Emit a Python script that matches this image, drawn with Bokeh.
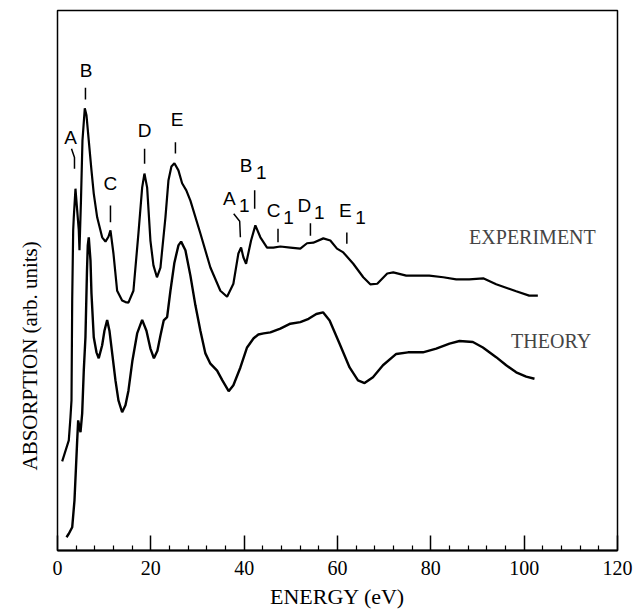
from bokeh.plotting import figure
from bokeh.models import Range1d, FixedTicker, Label, Title
from bokeh.embed import file_html
from bokeh.resources import INLINE
from bokeh.core.properties import value

# ---------------- data (energy in eV, absorption in arbitrary units) ----------------
exp_energy = [1.0, 2.42, 2.78, 3.0, 3.15, 3.36, 3.49, 3.85, 4.22, 4.56, 4.71, 5.03, 5.35, 5.85,
              6.21, 6.70, 7.28, 7.77, 8.50, 9.57, 10.28, 10.92, 11.35, 11.99, 12.78, 13.85,
              14.56, 15.2, 16.27, 17.34, 18.14, 18.63, 19.21, 19.91, 20.56, 21.31, 22.06,
              23.13, 23.77, 24.41, 25.05, 25.91, 26.70, 27.6, 28.48, 30.62, 32.76, 34.90,
              36.34, 37.69, 38.76, 39.34, 39.83, 40.41, 41.48, 42.40, 43.47, 44.90, 46.25,
              47.75, 49.89, 52.03, 53.47, 54.82, 56.96, 58.46, 59.89, 61.24, 63.38, 65.52,
              67.02, 68.52, 70.66, 71.95, 74.73, 79.66, 82.66, 85.44, 88.22, 91.22, 94.0,
              98.29, 101.07, 102.93]
exp_absorption = [16.5, 20.4, 24.7, 27.8, 46.3, 59.3, 61.7, 67.0, 63.0, 59.3, 55.6, 64.8, 75.9, 81.9,
                  80.6, 75.9, 70.4, 66.1, 61.7, 58.0, 57.2, 58.1, 59.3, 55.0, 48.1, 46.3,
                  46.0, 45.9, 48.1, 58.7, 67.2, 69.8, 67.2, 57.4, 52.8, 50.6, 52.4,
                  61.7, 68.5, 71.1, 71.7, 70.4, 68.0, 66.7, 64.8, 58.7, 52.4, 48.1,
                  47.0, 49.4, 55.0, 56.1, 54.3, 53.1, 57.4, 60.2, 58.0, 56.1, 56.1,
                  56.3, 56.1, 55.9, 56.9, 57.0, 57.8, 57.4, 55.9, 55.2, 53.1, 50.6,
                  49.3, 49.4, 51.3, 51.5, 50.9, 50.9, 50.6, 50.2, 50.2, 50.4, 49.3,
                  48.0, 47.2, 47.2]

theory_energy = [1.93, 2.42, 3.15, 3.64, 3.96, 4.22, 4.43, 4.93, 5.29, 5.63, 5.99, 6.32, 6.49,
                 6.70, 7.07, 7.28, 7.77, 8.35, 8.84, 9.57, 10.06, 10.64, 11.13, 11.78, 12.42,
                 13.06, 13.85, 14.56, 15.2, 16.06, 17.07, 18.14, 19.06, 19.91, 20.66, 21.41,
                 22.06, 22.76, 23.49, 24.2, 25.05, 25.91, 26.49, 27.41, 28.48, 29.55, 30.62,
                 31.69, 32.76, 34.2, 35.33, 36.68, 37.69, 39.19, 40.62, 42.03, 43.04, 44.18,
                 45.61, 47.75, 49.89, 52.03, 53.81, 55.46, 56.9, 58.31, 60.45, 62.59, 64.39,
                 65.80, 67.60, 69.74, 72.59, 75.1, 78.31, 81.16, 84.0, 86.15, 89.01, 91.16,
                 94.0, 96.15, 98.29, 100.43, 102.21]
theory_absorption = [2.46, 3.1, 4.3, 9.3, 15.4, 20.4, 24.1, 21.9, 25.4, 33.3, 39.5, 51.9, 56.5,
                     58.0, 53.7, 47.6, 39.5, 36.7, 35.6, 38.0, 40.7, 42.7, 40.7, 36.1, 31.5,
                     27.8, 25.6, 26.9, 29.6, 35.2, 40.2, 42.7, 40.7, 37.4, 35.6, 37.0,
                     39.8, 42.6, 43.2, 48.1, 53.3, 56.5, 57.2, 55.6, 50.9, 45.4, 40.7,
                     36.5, 34.6, 33.3, 31.5, 29.5, 30.6, 33.9, 37.6, 39.3, 40.0, 40.2,
                     40.4, 41.1, 42.0, 42.3, 42.9, 43.8, 44.1, 42.6, 38.3, 33.9, 31.5,
                     31.0, 32.1, 34.3, 36.4, 36.7, 36.7, 37.4, 38.3, 38.8, 38.6, 37.6,
                     35.8, 34.3, 33.0, 32.2, 31.8]

x_ticks = [0, 20, 40, 60, 80, 100, 120]
x_minor_ticks = [4, 8, 12, 16, 24, 28, 32, 36, 44, 48, 52, 56, 64, 68, 72, 76,
                 84, 88, 92, 96, 104, 108, 112, 116]

peak_letters = ["A", "B", "C", "D", "E", "A", "B", "C", "D", "E"]
peak_subscripts = ["", "", "", "", "", "1", "1", "1", "1", "1"]

# annotation placement (data coordinates)
letter_x = [2.78, 6.15, 11.35, 18.66, 25.62, 36.8, 40.43, 46.3, 52.9, 61.7]
letter_y = [76.5, 88.9, 67.9, 77.8, 79.9, 65.1, 71.3, 63.0, 63.9, 63.0]
marker_xs = [[3.0, 3.64, 3.64], [5.99, 5.99], [11.35, 11.35], [18.66, 18.66], [25.27, 25.27],
             [37.76, 39.04, 39.19], [42.25, 42.25], [47.25, 47.25], [54.2, 54.2], [62.0, 62.0]]
marker_ys = [[74.4, 72.8, 70.7], [85.7, 83.5], [63.9, 60.8], [74.4, 71.6], [75.6, 73.5],
             [62.35, 60.98, 58.0], [66.7, 63.3], [59.6, 57.1], [60.6, 58.3], [58.9, 56.8]]

# ---------------- figure ----------------
p = figure(width=636, height=615, output_backend="svg", toolbar_location=None,
           x_range=Range1d(0, 120), y_range=Range1d(0, 100), y_axis_location=None,
           min_border_left=57, min_border_right=19, min_border_top=10, min_border_bottom=65)
p.grid.visible = False
p.outline_line_color = "black"
p.outline_line_width = 1.5
p.background_fill_color = "white"
p.border_fill_color = "white"

ax = p.xaxis[0]
ax.ticker = FixedTicker(ticks=x_ticks, minor_ticks=x_minor_ticks)
ax.axis_line_width = 2
ax.axis_line_color = "black"
ax.major_tick_in = 15
ax.major_tick_out = 0
ax.minor_tick_in = 5
ax.minor_tick_out = 0
ax.major_tick_line_width = 1.5
ax.minor_tick_line_width = 1.2
ax.major_label_text_font = "Liberation Serif"
ax.major_label_text_font_size = "20px"
ax.major_label_text_color = "black"
ax.major_label_standoff = 10

p.line(exp_energy, exp_absorption, line_color="black", line_width=2.2)
p.line(theory_energy, theory_absorption, line_color="black", line_width=2.4)

p.multi_line(marker_xs, marker_ys, line_color="black", line_width=1.5)

p.text(x=letter_x, y=letter_y, text=peak_letters, text_font=value("Liberation Sans"),
       text_font_size="19px", text_align="center", text_baseline="middle", text_color="black")
p.text(x=letter_x, y=letter_y, text=peak_subscripts, text_font=value("Liberation Sans"),
       text_font_size="19px", text_align="center", text_baseline="middle", text_color="black",
       x_offset=15, y_offset=7)

p.add_layout(Label(x=88.2, y=58.1, text="EXPERIMENT", text_font="Liberation Serif",
                   text_font_size="20px", text_baseline="middle", text_align="left"))
p.add_layout(Label(x=97.2, y=38.8, text="THEORY", text_font="Liberation Serif",
                   text_font_size="20px", text_baseline="middle", text_align="left"))

p.add_layout(Title(text="ENERGY (eV)", align="center", standoff=8,
                   text_font="Liberation Serif", text_font_size="22px",
                   text_font_style="normal", text_color="black"), "below")
p.add_layout(Title(text="ABSORPTION (arb. units)", align="left", offset=80, standoff=28,
                   vertical_align="top",
                   text_font="Liberation Serif", text_font_size="21px",
                   text_font_style="normal", text_color="black"), "left")

open("out.html", "w").write(file_html(p, INLINE))
